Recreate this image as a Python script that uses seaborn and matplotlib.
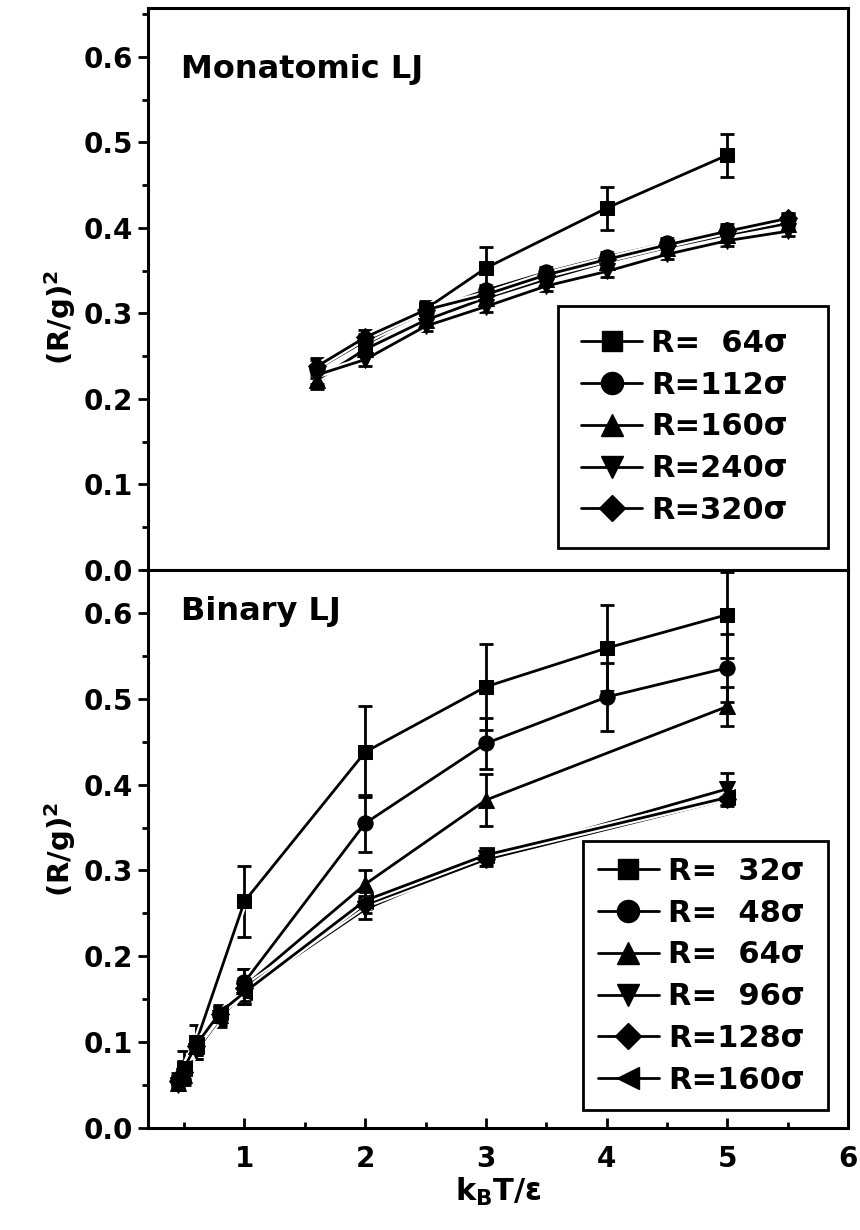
"""
Radius-of-gyration ratio vs temperature: monatomic and binary LJ droplets.
"""

import matplotlib

matplotlib.use("Agg")

import matplotlib.pyplot as plt
import matplotlib.patheffects as pe
from matplotlib.lines import Line2D
from matplotlib.ticker import FormatStrFormatter, MultipleLocator
import seaborn as sns

sns.set_theme(style="ticks")
plt.rcParams["font.family"] = ["DejaVu Sans"]
plt.rcParams.update({
    "font.weight": "bold",
    "axes.labelweight": "bold",
    "mathtext.default": "regular",
    "axes.linewidth": 2.0,
    "text.color": "black",
    "axes.labelcolor": "black",
    "axes.edgecolor": "black",
    "xtick.color": "black",
    "ytick.color": "black",
})

# --- Monatomic LJ -----------------------------------------------------------
mono_T = [1.6, 2.0, 2.5, 3.0, 3.5, 4.0, 4.5, 5.0, 5.5]
mono_T_64 = [2.0, 2.5, 3.0, 4.0, 5.0]
mono_64 = [0.262, 0.305, 0.353, 0.423, 0.485]
mono_64_err = [0.010, 0.010, 0.025, 0.025, 0.025]
mono_112 = [0.235, 0.268, 0.302, 0.327, 0.348, 0.366, 0.382, 0.398, 0.410]
mono_160 = [0.222, 0.258, 0.292, 0.318, 0.340, 0.360, 0.377, 0.392, 0.405]
mono_240 = [0.228, 0.246, 0.285, 0.308, 0.332, 0.349, 0.369, 0.385, 0.396]
mono_320 = [0.238, 0.272, 0.304, 0.322, 0.345, 0.363, 0.380, 0.396, 0.411]
mono_small_err = [0.010, 0.008, 0.006, 0.006, 0.006, 0.006, 0.006, 0.006, 0.006]

# --- Binary LJ --------------------------------------------------------------
bin_T_32 = [0.5, 0.6, 1.0, 2.0, 3.0, 4.0, 5.0]
bin_32 = [0.070, 0.100, 0.264, 0.438, 0.514, 0.559, 0.598]
bin_32_err = [0.020, 0.020, 0.041, 0.053, 0.050, 0.050, 0.050]
bin_T_48 = [0.45, 0.5, 0.6, 0.8, 1.0, 2.0, 3.0, 4.0, 5.0]
bin_48 = [0.055, 0.065, 0.095, 0.130, 0.170, 0.355, 0.448, 0.502, 0.536]
bin_48_err = [0.006, 0.008, 0.010, 0.010, 0.015, 0.033, 0.030, 0.040, 0.040]
bin_T = [0.45, 0.5, 0.6, 0.8, 1.0, 2.0, 3.0, 5.0]
bin_64 = [0.052, 0.062, 0.095, 0.132, 0.165, 0.284, 0.382, 0.491]
bin_64_err = [0.006, 0.008, 0.010, 0.010, 0.020, 0.016, 0.030, 0.023]
bin_96 = [0.050, 0.060, 0.090, 0.128, 0.160, 0.255, 0.315, 0.395]
bin_96_err = [0.006, 0.008, 0.010, 0.010, 0.015, 0.012, 0.008, 0.018]
bin_128 = [0.055, 0.065, 0.095, 0.133, 0.163, 0.260, 0.313, 0.383]
bin_160 = [0.058, 0.070, 0.097, 0.135, 0.158, 0.265, 0.318, 0.385]
bin_small_err = [0.006, 0.008, 0.008, 0.008, 0.010, 0.010, 0.008, 0.008]

mono_series = [
    ("R=  64σ", "s", mono_T_64, mono_64, mono_64_err),
    ("R=112σ", "o", mono_T, mono_112, mono_small_err),
    ("R=160σ", "^", mono_T, mono_160, mono_small_err),
    ("R=240σ", "v", mono_T, mono_240, mono_small_err),
    ("R=320σ", "D", mono_T, mono_320, mono_small_err),
]
bin_series = [
    ("R=  32σ", "s", bin_T_32, bin_32, bin_32_err),
    ("R=  48σ", "o", bin_T_48, bin_48, bin_48_err),
    ("R=  64σ", "^", bin_T, bin_64, bin_64_err),
    ("R=  96σ", "v", bin_T, bin_96, bin_96_err),
    ("R=128σ", "D", bin_T, bin_128, bin_small_err),
    ("R=160σ", "<", bin_T, bin_160, bin_small_err),
]

HALO = [pe.Stroke(linewidth=5, foreground="white"), pe.Normal()]
MSIZE = {"s": 10, "o": 11, "^": 11, "v": 11, "D": 9, "<": 11}


def _painel(ax, series, ymax, rotulo, pos_rotulo, caixa_leg, pos_ylabel, pad_leg):
    # linhas com "gap" branco, estilo Origin
    for nome, marc, x, y, err in series:
        ax.errorbar(x, y, yerr=err, fmt="none", ecolor="black",
                    elinewidth=2, capsize=5, capthick=2, zorder=2)
        sns.lineplot(x=x, y=y, ax=ax, color="black", linewidth=2,
                     path_effects=HALO, sort=False, zorder=3)
    # símbolos por cima de tudo
    for nome, marc, x, y, err in series:
        sns.lineplot(x=x, y=y, ax=ax, color="black", linestyle="none",
                     marker=marc, markersize=MSIZE[marc],
                     markeredgecolor="black", sort=False, zorder=4)

    ax.set_xlim(0.2, 6.0)
    ax.set_ylim(0.0, ymax)
    ax.xaxis.set_major_locator(MultipleLocator(1))
    ax.xaxis.set_minor_locator(MultipleLocator(0.5))
    ax.yaxis.set_major_locator(MultipleLocator(0.1))
    ax.yaxis.set_minor_locator(MultipleLocator(0.05))
    ax.yaxis.set_major_formatter(FormatStrFormatter("%.1f"))
    ax.tick_params(axis="y", which="major", direction="out", length=7,
                   width=2, labelsize=20, pad=4)
    ax.tick_params(axis="y", which="minor", direction="out", length=4, width=2)
    ax.tick_params(axis="x", which="major", direction="in", length=7,
                   width=2, labelsize=20, pad=12)
    ax.tick_params(axis="x", which="minor", direction="in", length=4, width=2)
    for t in ax.get_yticklabels() + ax.get_xticklabels():
        t.set_fontweight("bold")
    for lado in ax.spines.values():
        lado.set_linewidth(2.2)

    ax.set_ylabel("(R/g)$^2$", fontsize=21, fontweight="bold")
    ax.yaxis.set_label_coords(-0.10, pos_ylabel)
    ax.text(pos_rotulo[0], pos_rotulo[1], rotulo, transform=ax.transAxes,
            fontsize=23, fontweight="bold", ha="left", va="center")

    alcas = [Line2D([], [], color="black", linewidth=2, marker=marc,
                    markersize=MSIZE[marc] * 1.45, markeredgecolor="black")
             for _, marc, *_ in series]
    nomes = [nome for nome, *_ in series]
    leg = ax.legend(alcas, nomes, loc="lower left", bbox_to_anchor=caixa_leg,
                    mode="expand", borderaxespad=0, frameon=True,
                    fancybox=False, edgecolor="black", handlelength=2.0,
                    handletextpad=0.3, labelspacing=0.42, borderpad=pad_leg,
                    prop={"size": 22, "weight": "bold"})
    leg.get_frame().set_linewidth(2.0)
    leg.get_frame().set_alpha(1.0)


fig = plt.figure(figsize=(8.6, 12.3), dpi=100)
ax_mono = fig.add_axes([0.172, 0.5366, 0.814, 0.4569])
ax_bin = fig.add_axes([0.172, 0.0829, 0.814, 0.4537])

_painel(ax_mono, mono_series, 0.657, "Monatomic LJ", (0.047, 0.89),
        (0.586, 0.039, 0.386, 0.0), 0.45, 0.75)
_painel(ax_bin, bin_series, 0.65, "Binary LJ", (0.047, 0.925),
        (0.621, 0.032, 0.35, 0.0), 0.5, 0.5)

ax_mono.tick_params(axis="x", which="both", bottom=False, labelbottom=False)
ax_bin.set_xlabel("k$_B$T/ε", fontsize=22, fontweight="bold", labelpad=2)

fig.savefig("out.png", dpi=100)
